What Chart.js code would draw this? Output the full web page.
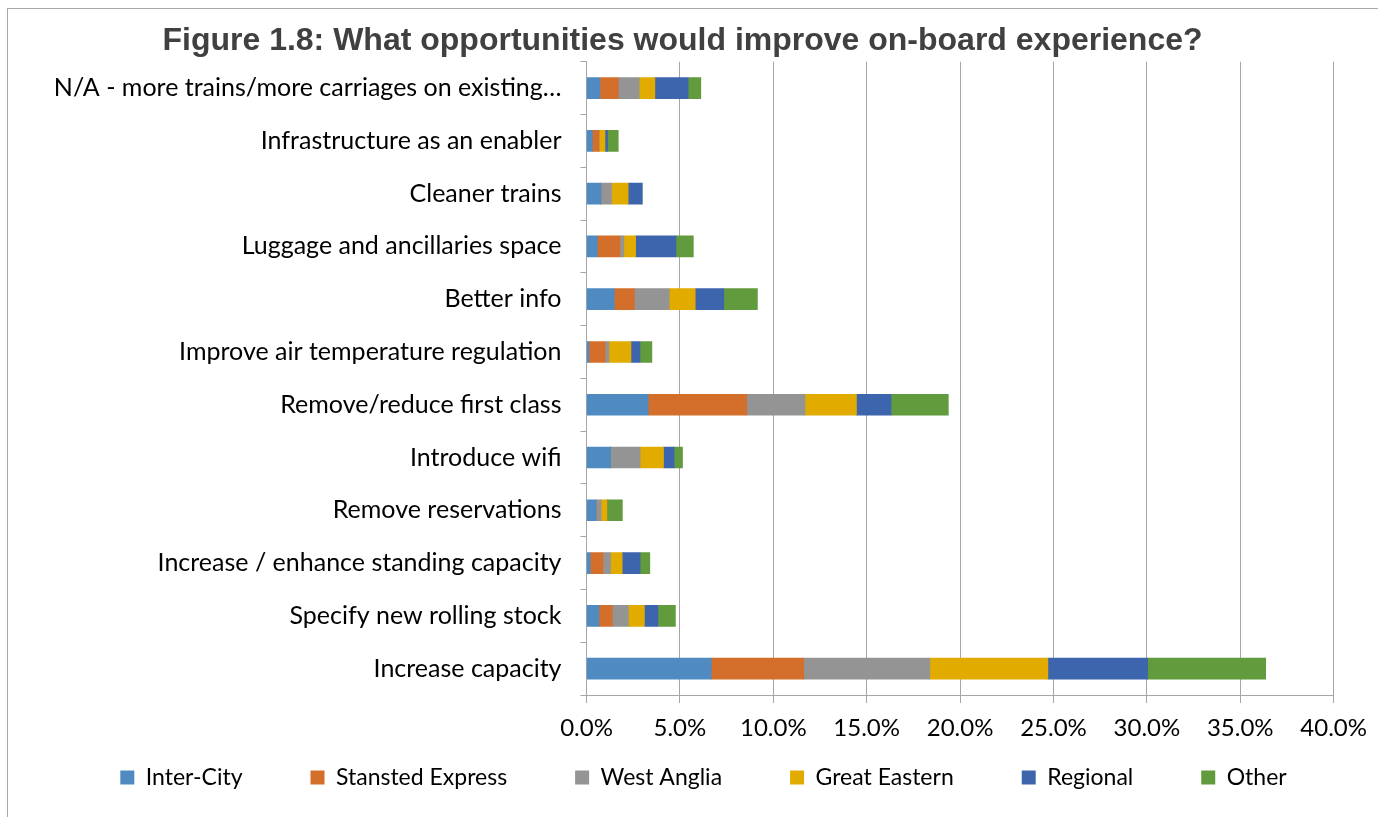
<!DOCTYPE html>
<html>
<head>
<meta charset="utf-8">
<script src="https://cdn.jsdelivr.net/npm/chart.js@4"></script>
<style>
  html, body { margin: 0; padding: 0; background: #fff; overflow: hidden; }
  #wrap { position: relative; width: 1378px; height: 817px; }
  #frame { position: absolute; left: 7px; top: 8px; right: -10px; bottom: -10px; border: 1px solid #a9a9a9; }
  #chart { position: absolute; left: 0; top: 0; }
</style>
</head>
<body>
<div id="wrap">
  <div id="frame"></div>
  <canvas id="chart" width="1378" height="817"></canvas>
</div>
<script>
// categories, top to bottom
const categories = [
  'N/A - more trains/more carriages on existing…',
  'Infrastructure as an enabler',
  'Cleaner trains',
  'Luggage and ancillaries space',
  'Better info',
  'Improve air temperature regulation',
  'Remove/reduce first class',
  'Introduce wifi',
  'Remove reservations',
  'Increase / enhance standing capacity',
  'Specify new rolling stock',
  'Increase capacity'
];

// share of responses (%) per route group
const interCity       = [0.72, 0.31, 0.77, 0.58, 1.49, 0.13, 3.30, 1.29, 0.51, 0.20, 0.67, 6.68];
const stanstedExpress = [0.98, 0.36, 0.00, 1.21, 1.07, 0.87, 5.28, 0.00, 0.00, 0.68, 0.71, 4.95];
const westAnglia      = [1.12, 0.00, 0.57, 0.21, 1.87, 0.20, 3.12, 1.58, 0.27, 0.41, 0.86, 6.75];
const greatEastern    = [0.84, 0.32, 0.89, 0.63, 1.39, 1.18, 2.75, 1.25, 0.32, 0.62, 0.86, 6.32];
const regional        = [1.78, 0.14, 0.75, 2.16, 1.53, 0.48, 1.85, 0.57, 0.00, 0.96, 0.72, 5.34];
const other           = [0.68, 0.57, 0.00, 0.93, 1.80, 0.64, 3.07, 0.45, 0.82, 0.52, 0.94, 6.32];

const seriesNames = ['Inter-City', 'Stansted Express', 'West Anglia', 'Great Eastern', 'Regional', 'Other'];
const seriesColors = ['#4f8bc0', '#d46f2b', '#949494', '#e2ab00', '#3c65ad', '#629a3e'];

const xTicks = { min: 0, max: 40, step: 5 };

const FONT = 'Lato, "Open Sans", sans-serif';
const GRID = '#a6a6a6';

const datasets = [interCity, stanstedExpress, westAnglia, greatEastern, regional, other].map((values, i) => ({
  label: seriesNames[i],
  data: values,
  backgroundColor: seriesColors[i],
  borderWidth: 0,
  barThickness: 21
}));

// legend row: a bit right of the title centre, and pulled up under the axis labels
const legendPlace = {
  id: 'legendPlace',
  afterLayout(chart) {
    const lg = chart.legend;
    lg.left += 21;
    lg.right += 21;
    lg.top = 698;
    lg.bottom = 817;
  }
};

new Chart(document.getElementById('chart'), {
  type: 'bar',
  data: { labels: categories, datasets },
  plugins: [legendPlace],
  options: {
    indexAxis: 'y',
    responsive: false,
    animation: false,
    devicePixelRatio: 1,
    layout: { padding: { top: 0, left: 28, right: 41, bottom: 0 } },
    scales: {
      x: {
        stacked: true,
        min: xTicks.min,
        max: xTicks.max,
        ticks: {
          stepSize: xTicks.step,
          color: '#000',
          font: { family: FONT, size: 24 },
          padding: 11,
          maxRotation: 0,
          callback: (v) => Number(v).toFixed(1) + '%'
        },
        grid: { color: GRID, lineWidth: 1, tickLength: 8, drawTicks: true },
        border: { display: true, color: GRID, width: 1 },
        afterFit: (scale) => { scale.height = 50; }
      },
      y: {
        stacked: true,
        ticks: {
          color: '#000',
          font: { family: FONT, size: 25 },
          padding: 19,
          autoSkip: false
        },
        grid: { drawOnChartArea: false, drawTicks: true, tickLength: 6, color: GRID, offset: true },
        border: { display: true, color: GRID, width: 1 },
        afterFit: (scale) => { scale.width = 558.5; }
      }
    },
    plugins: {
      title: {
        display: true,
        text: 'Figure 1.8: What opportunities would improve on-board experience?',
        color: '#404040',
        font: { family: '"Liberation Sans", Arial, sans-serif', size: 32, weight: 'bold' },
        padding: { top: 21.8, bottom: 1.5 }
      },
      legend: {
        position: 'bottom',
        maxHeight: 72,
        labels: {
          color: '#000',
          font: { family: FONT, size: 23 },
          boxWidth: 14,
          boxHeight: 14,
          padding: 68
        }
      },
      tooltip: { enabled: false }
    }
  }
});
</script>
</body>
</html>
